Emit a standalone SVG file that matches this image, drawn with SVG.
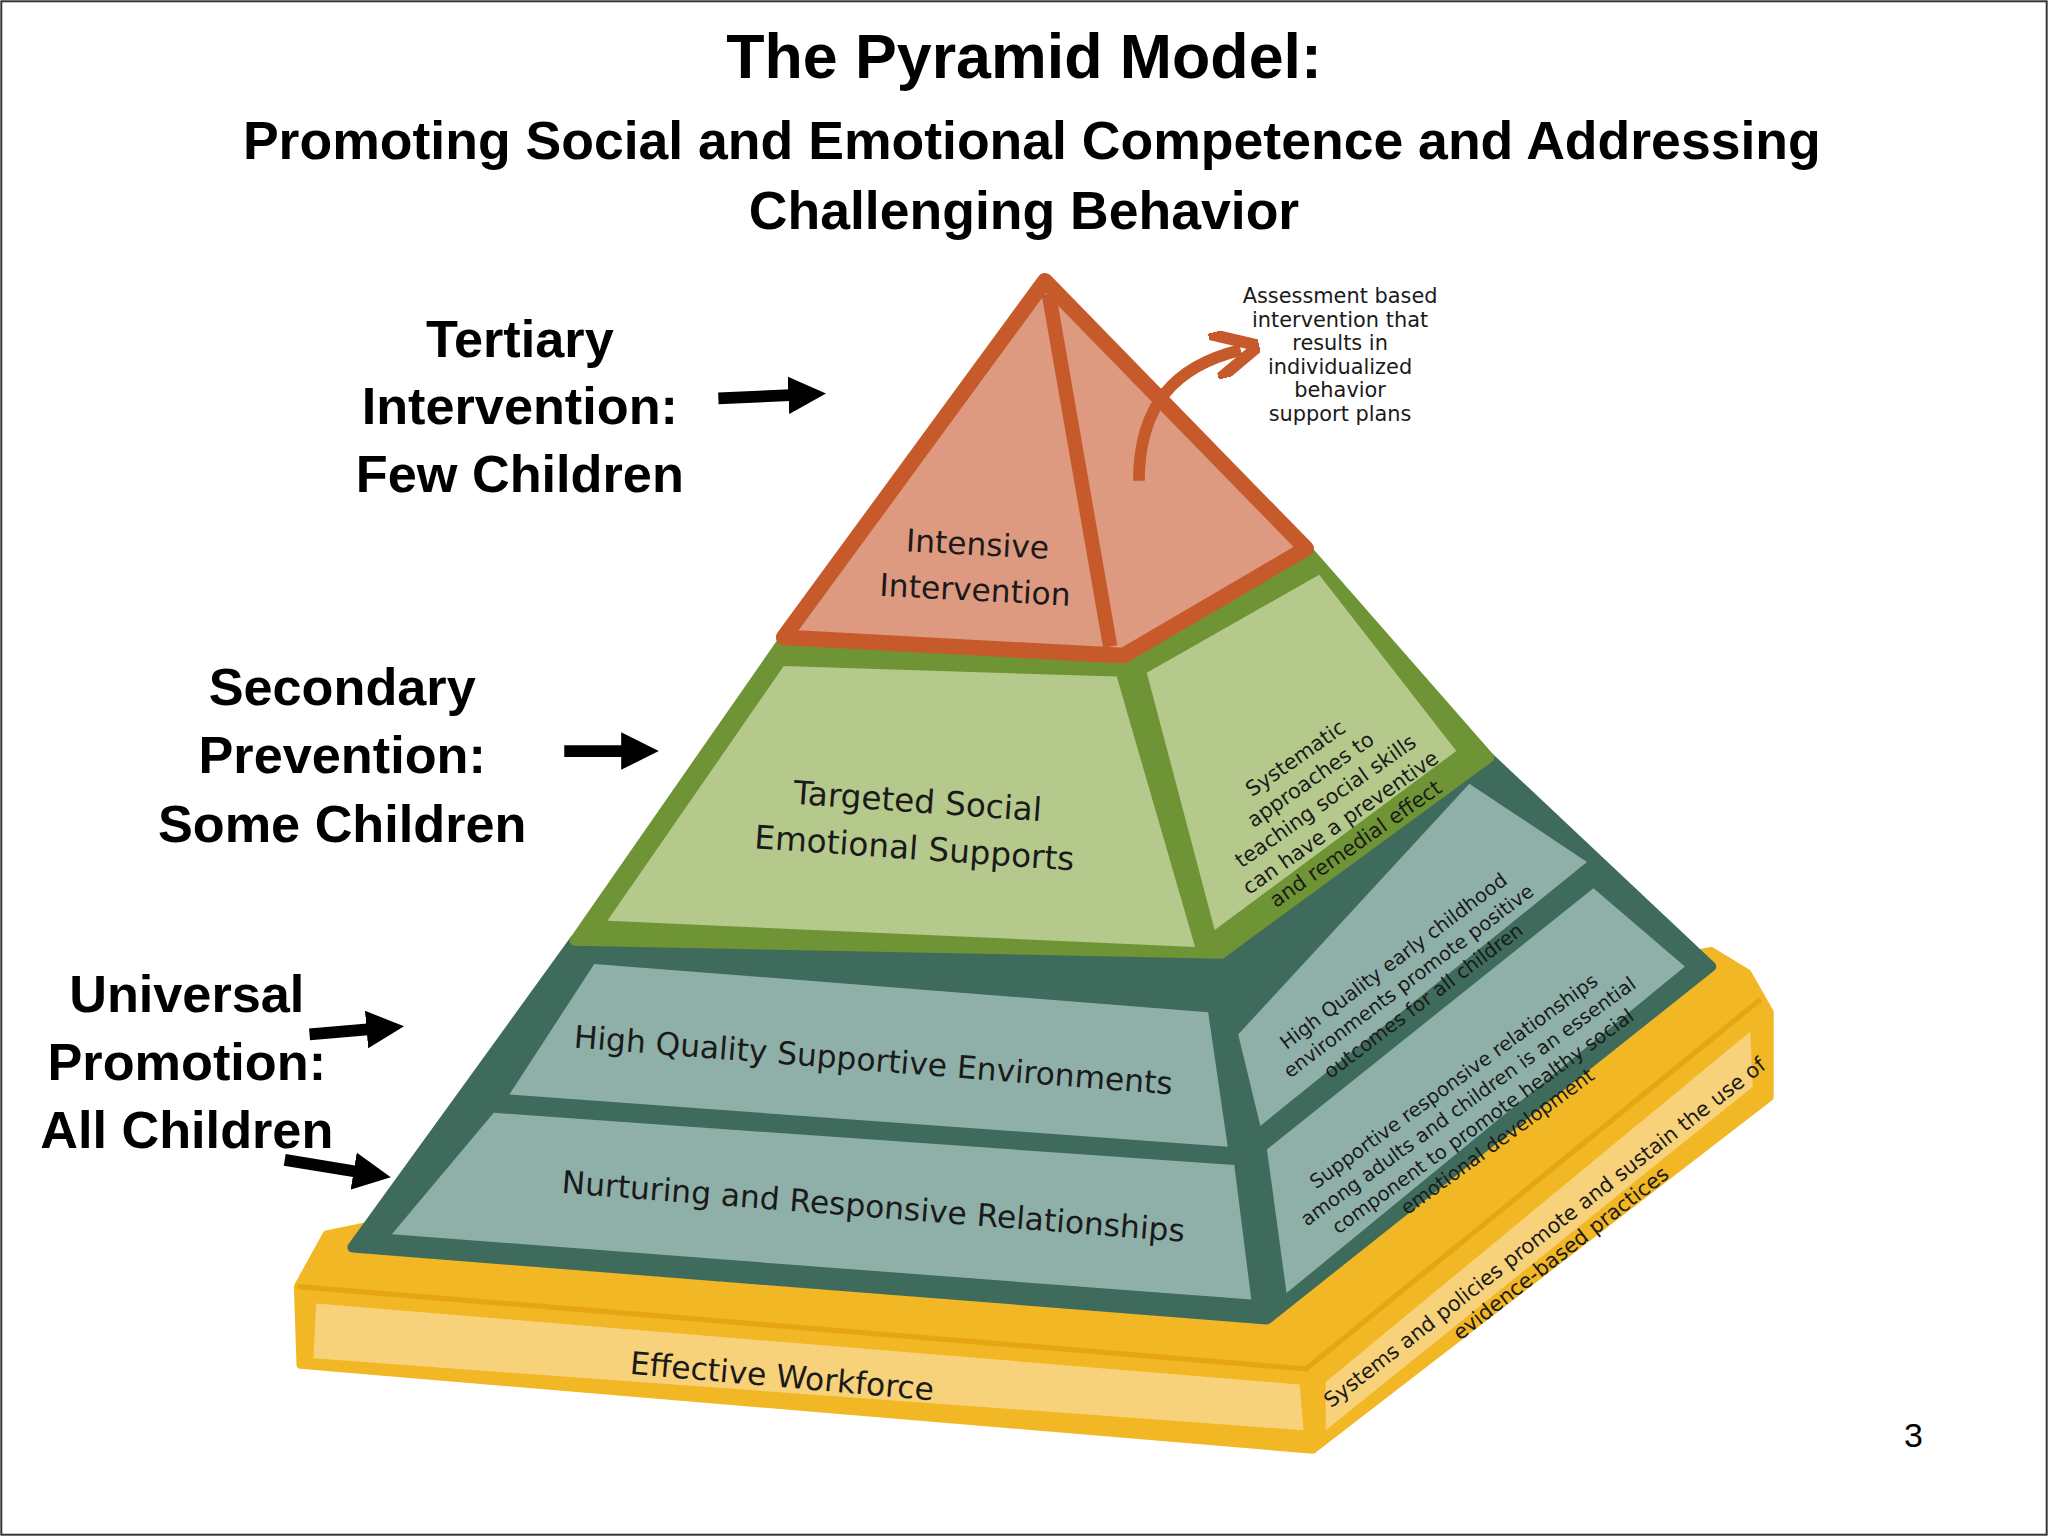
<svg xmlns="http://www.w3.org/2000/svg" width="2048" height="1536" viewBox="0 0 2048 1536">
<style>
.t{font-family:"Liberation Sans",Arial,sans-serif;font-weight:bold;fill:#000;text-anchor:middle}
.h{font-family:"DejaVu Sans",sans-serif;fill:#1a1a1a;text-anchor:middle}
.arr{stroke:#000;stroke-width:9;fill:none}
</style>
<defs>
<marker id="ah" viewBox="0 0 10 10" refX="5" refY="5" markerWidth="3.2" markerHeight="3.2" orient="auto"><path d="M0,0L10,5L0,10z" fill="#000"/></marker>
<marker id="oh" viewBox="0 0 10 10" refX="6" refY="5" markerWidth="4" markerHeight="4" orient="auto"><path d="M0,0L10,5L0,10" fill="none" stroke="#c65a2a" stroke-width="2.5"/></marker>
</defs>
<rect x="0" y="0" width="2048" height="1536" fill="#fff"/>
<g transform="scale(1.30612)">
<rect x="1" y="1" width="1566" height="1174" fill="none" stroke="#333" stroke-width="1.5"/>
<g id="title">
<text class="t" x="784" y="60" font-size="48">The Pyramid Model:</text>
<text class="t" x="790" y="122" font-size="41">Promoting Social and Emotional Competence and Addressing</text>
<text class="t" x="784" y="175" font-size="41">Challenging Behavior</text>
</g>
<g id="base">
<path d="M228,985 L250,945 L1310,728 L1338,745 L1355,775 L1355,840 L1005,1110 L230,1045 Z" fill="#f2b724" stroke="#f2b724" stroke-width="6" stroke-linejoin="round"/>
<path d="M242,998 L995,1060 L998,1095 L240,1040 Z" fill="#f8d27a"/>
<path d="M1015,1058 L1340,790 L1342,832 L1015,1095 Z" fill="#f8d27a"/>
<path d="M228,985 L1000,1048 L1348,765" fill="none" stroke="#e5a514" stroke-width="4"/>
<text class="h" font-size="24" transform="translate(598,1062) rotate(5)">Effective Workforce</text>
<text class="h" font-size="16" transform="translate(1186,948) rotate(-38)"><tspan x="0" y="0">Systems and policies promote and sustain the use of</tspan><tspan x="0" y="20">evidence-based practices</tspan></text>
</g>
<g id="universal">
<path d="M270,955 L440,720 L1140,580 L1310,740 L970,1010 Z" fill="#3f6b5c" stroke="#3f6b5c" stroke-width="8" stroke-linejoin="round"/>
<path d="M390,838 L455,738 L925,775 L940,878 Z" fill="#8fb0a8"/>
<path d="M300,945 L378,852 L945,892 L958,995 Z" fill="#8fb0a8"/>
<path d="M948,792 L1125,600 L1215,660 L965,862 Z" fill="#8fb0a8"/>
<path d="M970,880 L1220,680 L1290,740 L985,990 Z" fill="#8fb0a8"/>
<text class="h" font-size="24" transform="translate(668,820) rotate(4.5)">High Quality Supportive Environments</text>
<text class="h" font-size="24" transform="translate(668,932) rotate(4.5)">Nurturing and Responsive Relationships</text>
<text class="h" font-size="15" transform="translate(1070,740) rotate(-37)"><tspan x="0" y="0">High Quality early childhood</tspan><tspan x="0" y="19">environments promote positive</tspan><tspan x="0" y="38">outcomes for all children</tspan></text>
<text class="h" font-size="15" transform="translate(1116,832) rotate(-36)"><tspan x="0" y="0">Supportive responsive relationships</tspan><tspan x="0" y="19">among adults and children is an essential</tspan><tspan x="0" y="38">component to promote healthy social</tspan><tspan x="0" y="57">emotional development</tspan></text>
</g>
<g id="secondary">
<path d="M440,720 L600,490 L1000,420 L1140,580 L935,730 Z" fill="#6f9435" stroke="#6f9435" stroke-width="8" stroke-linejoin="round"/>
<path d="M465,705 L600,510 L855,518 L915,725 Z" fill="#b6c98c"/>
<path d="M878,515 L1010,440 L1115,575 L930,712 Z" fill="#b6c98c"/>
<text class="h" font-size="25" transform="translate(702,622) rotate(4)"><tspan x="0" y="0">Targeted Social</tspan><tspan x="0" y="36">Emotional Supports</tspan></text>
<text class="h" font-size="16" transform="translate(995,585) rotate(-35)"><tspan x="0" y="0">Systematic</tspan><tspan x="0" y="20">approaches to</tspan><tspan x="0" y="40">teaching social skills</tspan><tspan x="0" y="60">can have a preventive</tspan><tspan x="0" y="80">and remedial effect</tspan></text>
</g>
<g id="tertiary">
<path d="M600,488 L800,215 L1000,420 L860,502 Z" fill="#dd9a80" stroke="#c65a2a" stroke-width="12" stroke-linejoin="round"/>
<path d="M803,225 L850,495" stroke="#c65a2a" stroke-width="11"/>
<text class="h" font-size="24" transform="translate(748,425) rotate(3)"><tspan x="0" y="0">Intensive</tspan><tspan x="0" y="35">Intervention</tspan></text>
</g>
<g id="annotation">
<text class="h" font-size="16" fill="#333"><tspan x="1026" y="232">Assessment based</tspan><tspan x="1026" y="250">intervention that</tspan><tspan x="1026" y="268">results in</tspan><tspan x="1026" y="286">individualized</tspan><tspan x="1026" y="304">behavior</tspan><tspan x="1026" y="322">support plans</tspan></text>
</g>
<g id="labels">
<text class="t" font-size="40"><tspan x="398" y="273">Tertiary</tspan><tspan x="398" y="325">Intervention:</tspan><tspan x="398" y="377">Few Children</tspan></text>
<text class="t" font-size="40"><tspan x="262" y="540">Secondary</tspan><tspan x="262" y="592">Prevention:</tspan><tspan x="262" y="645">Some Children</tspan></text>
<text class="t" font-size="40"><tspan x="143" y="775">Universal</tspan><tspan x="143" y="827">Promotion:</tspan><tspan x="143" y="879">All Children</tspan></text>
</g>
<g id="connectors">
<path class="arr" d="M550,305 L618,302" marker-end="url(#ah)"/>
<path class="arr" d="M432,575 L490,575" marker-end="url(#ah)"/>
<path class="arr" d="M237,792 L295,787" marker-end="url(#ah)"/>
<path class="arr" d="M218,888 L285,899" marker-end="url(#ah)"/>
<path d="M872,368 C872,310 900,280 950,268" stroke="#c65a2a" stroke-width="9" fill="none" marker-end="url(#oh)"/>
</g>
<text x="1465" y="1108" font-family="Liberation Sans,Arial,sans-serif" font-size="26" text-anchor="middle">3</text>
</g>
</svg>
